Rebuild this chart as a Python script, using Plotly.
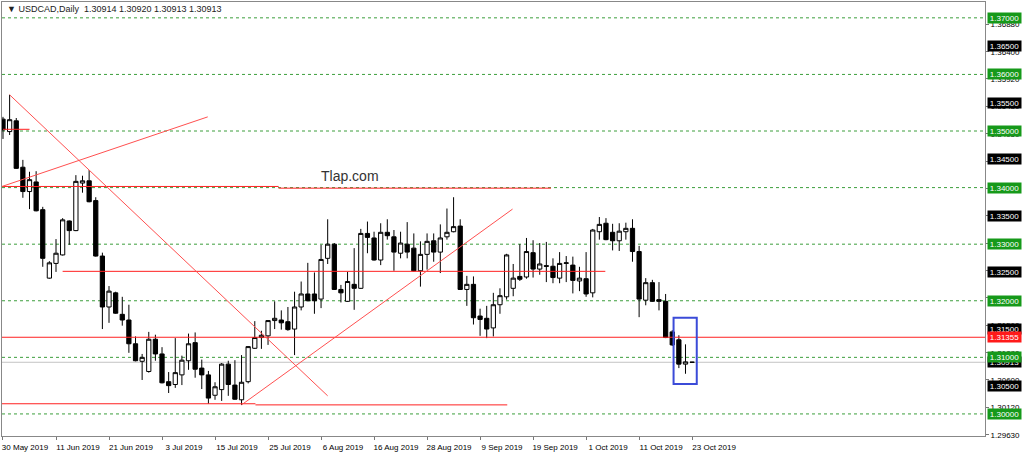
import pandas as pd
import plotly.graph_objects as go

# ---------------- data ----------------
dates = pd.bdate_range("2019-05-30", "2019-10-23")
date_labels = [f"{d.day} {d.strftime('%b %Y')}" for d in dates]

open_ = [1.3521, 1.3499, 1.3518, 1.3436, 1.3393, 1.3410, 1.3361, 1.3240, 1.3266, 1.3281,
         1.3341, 1.3324, 1.3408, 1.3412, 1.3377, 1.3279, 1.3189, 1.3214, 1.3176, 1.3166,
         1.3124, 1.3093, 1.3075, 1.3132, 1.3106, 1.3057, 1.3052, 1.3069, 1.3094, 1.3126,
         1.3081, 1.3069, 1.3033, 1.3043, 1.3088, 1.3051, 1.3025, 1.3057, 1.3116, 1.3135,
         1.3138, 1.3165, 1.3166, 1.3163, 1.3150, 1.3189, 1.3212, 1.3212, 1.3203, 1.3275,
         1.3300, 1.3220, 1.3199, 1.3229, 1.3222, 1.3319, 1.3311, 1.3272, 1.3321, 1.3313,
         1.3284, 1.3300, 1.3293, 1.3253, 1.3282, 1.3306, 1.3286, 1.3313, 1.3322, 1.3332,
         1.3220, 1.3229, 1.3173, 1.3169, 1.3152, 1.3193, 1.3207, 1.3222, 1.3243, 1.3242,
         1.3285, 1.3256, 1.3262, 1.3261, 1.3240, 1.3266, 1.3263, 1.3235, 1.3239, 1.3214,
         1.3322, 1.3337, 1.3321, 1.3306, 1.3322, 1.3328, 1.3287, 1.3201, 1.3232, 1.3202,
         1.3199, 1.3145, 1.3131, 1.3088, 1.30914]
high = [1.3525, 1.3564, 1.3523, 1.3449, 1.3428, 1.3429, 1.3366, 1.3270, 1.3309, 1.3346,
        1.3342, 1.3422, 1.3421, 1.3431, 1.3383, 1.3285, 1.3226, 1.3216, 1.3207, 1.3193,
        1.3137, 1.3106, 1.3145, 1.3140, 1.3118, 1.3074, 1.3134, 1.3103, 1.3142, 1.3144,
        1.3096, 1.3076, 1.3056, 1.3090, 1.3094, 1.3095, 1.3104, 1.3120, 1.3164, 1.3147,
        1.3166, 1.3199, 1.3183, 1.3189, 1.3216, 1.3234, 1.3267, 1.3250, 1.3299, 1.3344,
        1.3302, 1.3228, 1.3251, 1.3293, 1.3327, 1.3340, 1.3322, 1.3337, 1.3344, 1.3325,
        1.3322, 1.3339, 1.3319, 1.3305, 1.3319, 1.3319, 1.3335, 1.3363, 1.3383, 1.3344,
        1.3244, 1.3243, 1.3186, 1.3191, 1.3214, 1.3222, 1.3283, 1.3265, 1.3300, 1.3311,
        1.3307, 1.3302, 1.3304, 1.3275, 1.3286, 1.3279, 1.3278, 1.3260, 1.3286, 1.3327,
        1.3348, 1.3346, 1.3336, 1.3337, 1.3338, 1.3344, 1.3297, 1.3240, 1.3237, 1.3233,
        1.3212, 1.3148, 1.3139, 1.3123, 1.30920]
low = [1.3486, 1.3493, 1.3433, 1.3382, 1.3362, 1.3358, 1.3260, 1.3239, 1.3251, 1.3280,
       1.3299, 1.3323, 1.3391, 1.3374, 1.3278, 1.3150, 1.3161, 1.3177, 1.3156, 1.3108,
       1.3093, 1.3060, 1.3073, 1.3094, 1.3054, 1.3037, 1.3046, 1.3051, 1.3078, 1.3064,
       1.3044, 1.3018, 1.3025, 1.3023, 1.3032, 1.3025, 1.3016, 1.3054, 1.3115, 1.3115,
       1.3122, 1.3150, 1.3149, 1.3147, 1.3104, 1.3183, 1.3199, 1.3177, 1.3187, 1.3265,
       1.3219, 1.3197, 1.3198, 1.3184, 1.3221, 1.3284, 1.3271, 1.3263, 1.3308, 1.3253,
       1.3275, 1.3275, 1.3252, 1.3225, 1.3255, 1.3269, 1.3249, 1.3308, 1.3321, 1.3219,
       1.3191, 1.3158, 1.3138, 1.3134, 1.3137, 1.3177, 1.3202, 1.3208, 1.3235, 1.3239,
       1.3241, 1.3246, 1.3233, 1.3231, 1.3231, 1.3233, 1.3213, 1.3217, 1.3207, 1.3206,
       1.3308, 1.3307, 1.3289, 1.3288, 1.3308, 1.3269, 1.3171, 1.3192, 1.3198, 1.3183,
       1.3134, 1.3120, 1.3081, 1.3071, 1.30913]
close = [1.3502, 1.3520, 1.3434, 1.3393, 1.3414, 1.3359, 1.3275, 1.3267, 1.3284, 1.3343,
         1.3324, 1.3411, 1.3412, 1.3375, 1.3279, 1.3189, 1.3217, 1.3178, 1.3166, 1.3124,
         1.3094, 1.3100, 1.3132, 1.3106, 1.3055, 1.3050, 1.3073, 1.3095, 1.3124, 1.3079,
         1.3069, 1.3028, 1.3048, 1.3088, 1.3052, 1.3026, 1.3056, 1.3119, 1.3135, 1.3139,
         1.3165, 1.3169, 1.3161, 1.3149, 1.3189, 1.3212, 1.3200, 1.3200, 1.3273, 1.3300,
         1.3220, 1.3214, 1.3234, 1.3222, 1.3319, 1.3312, 1.3272, 1.3321, 1.3315, 1.3286,
         1.3302, 1.3286, 1.3253, 1.3282, 1.3305, 1.3286, 1.3311, 1.3321, 1.3331, 1.3220,
         1.3229, 1.3170, 1.3167, 1.3150, 1.3193, 1.3209, 1.3281, 1.3240, 1.3238, 1.3287,
         1.3256, 1.3265, 1.3261, 1.3241, 1.3266, 1.3267, 1.3236, 1.3240, 1.3212, 1.3325,
         1.3335, 1.3308, 1.3306, 1.3323, 1.3328, 1.3287, 1.3203, 1.3232, 1.3199, 1.3199,
         1.3135, 1.3122, 1.3088, 1.3092, 1.30913]

green_levels = [1.30, 1.31, 1.32, 1.33, 1.34, 1.35, 1.36, 1.37]
black_levels = [1.305, 1.315, 1.325, 1.335, 1.345, 1.355, 1.365]
red_level = 1.31355
last_price = 1.30913
price_ticks = [1.36880, 1.36400, 1.35920, 1.35430, 1.34950, 1.34460, 1.33980, 1.33500,
               1.33010, 1.32530, 1.32050, 1.31560, 1.31080, 1.30600, 1.30120, 1.29630]

# drawn objects in (bar index, price) units
red_segments = [
    (0.0, 1.3503, 4.0, 1.3503),
    (-0.15, 1.3402, 41.6, 1.3402),
    (41.6, 1.3399, 82.7, 1.3399),
    (9.0, 1.3252, 90.9, 1.3252),
    (-0.15, 1.3018, 38.1, 1.3018),
    (38.1, 1.3016, 76.1, 1.3016),
]
trend_lines = [
    (-0.15, 1.3402, 30.9, 1.3525),
    (1.0, 1.3564, 49.0, 1.3032),
    (36.0, 1.3016, 76.9, 1.3362),
]
box_area = (101.2, 1.3053, 104.7, 1.3170)
watermark = (47.7, 1.3421, "Tlap.com")
title_text = "▼ USDCAD,Daily  1.30914 1.30920 1.30913 1.30913"

# ---------------- figure ----------------
x = list(range(len(dates)))
tick_idx = list(range(0, len(dates), 8))

fig = go.Figure()
fig.add_trace(go.Candlestick(
    x=x, open=open_, high=high, low=low, close=close,
    increasing=dict(line=dict(color="black", width=1), fillcolor="white"),
    decreasing=dict(line=dict(color="black", width=1), fillcolor="black"),
    whiskerwidth=0, hoverinfo="skip", showlegend=False,
))

shapes = []
for lv in green_levels:
    shapes.append(dict(type="line", xref="paper", x0=0, x1=1, yref="y", y0=lv, y1=lv,
                       line=dict(color="#3C9E3C", width=1, dash="3px,3px"), layer="below"))
shapes.append(dict(type="line", xref="paper", x0=0, x1=1, yref="y", y0=last_price, y1=last_price,
                   line=dict(color="#C4C4C4", width=1), layer="below"))
shapes.append(dict(type="line", xref="paper", x0=0, x1=1, yref="y", y0=red_level, y1=red_level,
                   line=dict(color="#FF2020", width=1), layer="above"))
for x0, y0, x1, y1 in red_segments:
    shapes.append(dict(type="line", xref="x", yref="y", x0=x0, y0=y0, x1=x1, y1=y1,
                       line=dict(color="#FF2020", width=1), layer="above"))
for x0, y0, x1, y1 in trend_lines:
    shapes.append(dict(type="line", xref="x", yref="y", x0=x0, y0=y0, x1=x1, y1=y1,
                       line=dict(color="#FF5050", width=1), layer="above"))
bx0, by0, bx1, by1 = box_area
shapes.append(dict(type="rect", xref="x", yref="y", x0=bx0, y0=by0, x1=bx1, y1=by1,
                   line=dict(color="#3B4BD8", width=2), fillcolor="rgba(0,0,0,0)", layer="above"))

annotations = []


def level_label(lv, bg):
    return dict(xref="paper", x=1, xanchor="left", xshift=2, yref="y", y=lv, yanchor="middle",
                text=f"{lv:.5f}", showarrow=False, bgcolor=bg, borderpad=0,
                width=33, height=10, font=dict(color="white", size=8, family="Liberation Sans"))


for lv in black_levels:
    annotations.append(level_label(lv, "black"))
annotations.append(level_label(last_price, "black"))
annotations.append(level_label(red_level, "#FF1A1A"))
for lv in green_levels:
    annotations.append(level_label(lv, "#16991A"))

annotations.append(dict(xref="x", yref="y", x=watermark[0], y=watermark[1], text=watermark[2],
                        xanchor="left", yanchor="middle", showarrow=False,
                        font=dict(size=14, color="#333333", family="Liberation Sans")))
annotations.append(dict(xref="paper", yref="paper", x=0, y=1, xanchor="left", yanchor="middle",
                        xshift=3, yshift=-7, text=title_text, showarrow=False,
                        font=dict(size=9, color="#222222", family="Liberation Sans")))

fig.update_layout(
    width=1024, height=454,
    margin=dict(l=2, r=39, t=2, b=18),
    paper_bgcolor="white", plot_bgcolor="white",
    font=dict(family="Liberation Sans", size=8, color="black"),
    shapes=shapes, annotations=annotations,
    boxgap=0.2, boxgroupgap=0.2,
    showlegend=False,
)
fig.update_xaxes(
    range=[-0.15, 148.2], rangeslider=dict(visible=False), showgrid=False, zeroline=False,
    tickmode="array", tickvals=tick_idx, ticktext=[date_labels[i] for i in tick_idx],
    ticks="outside", ticklen=3, tickcolor="#777777", ticklabelshift=22,
    showline=True, linecolor="#888888", linewidth=1, mirror=True, automargin=False,
    tickfont=dict(size=8, color="black"),
)
fig.update_yaxes(
    range=[1.2961, 1.3728], side="right", showgrid=False, zeroline=False,
    tickmode="array", tickvals=price_ticks, ticktext=[f"{v:.5f}" for v in price_ticks],
    ticks="outside", ticklen=3, tickcolor="#777777",
    showline=True, linecolor="#888888", linewidth=1, mirror=True, automargin=False,
    tickfont=dict(size=8, color="black"),
)

fig.write_html("out.html", config={"displayModeBar": False},
               post_script="document.body.style.margin='0';document.body.style.overflow='hidden';")
